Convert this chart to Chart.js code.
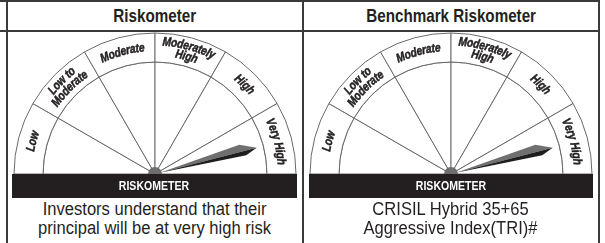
<!DOCTYPE html>
<html>
<head>
<meta charset="utf-8">
<script src="https://cdn.jsdelivr.net/npm/chart.js@4.4.1/dist/chart.umd.min.js"></script>
<style>
  body { margin: 0; width: 605px; height: 243px; overflow: hidden; position: relative; background: #fff;
         font-family: "Liberation Sans", Arial, sans-serif; color: #231f20; }
  .line { position: absolute; background: #3a3a3a; }
  .head { position: absolute; top: 2px; height: 28px; line-height: 28px; text-align: center; font-weight: bold; font-size: 19px; }
  .head span { display: inline-block; transform: scaleX(0.8); }
  .band { position: absolute; top: 174px; height: 24px; line-height: 25px; background: #231f20; color: #fff;
          text-align: center; font-weight: bold; font-size: 12px; }
  .band span { display: inline-block; transform: scaleX(0.88); }
  .cap { position: absolute; top: 200px; text-align: center; font-size: 18px; line-height: 19px; }
  .cap span { display: inline-block; transform: scaleX(0.92); white-space: nowrap; }
  canvas { position: absolute; }
</style>
</head>
<body>
<div class="line" style="left:0;top:0;width:600px;height:2px"></div>
<div class="line" style="left:0;top:30px;width:600px;height:2px"></div>
<div class="line" style="left:6px;top:0;width:2px;height:243px"></div>
<div class="line" style="left:302px;top:0;width:2px;height:243px"></div>
<div class="line" style="left:598px;top:0;width:2px;height:243px"></div>

<div class="head" style="left:8px;width:294px"><span id="head0"></span></div>
<div class="head" style="left:304px;width:294px"><span id="head1"></span></div>

<canvas id="gauge0" width="300" height="161" style="left:5px;top:23px"></canvas>
<canvas id="gauge1" width="300" height="161" style="left:301px;top:23px"></canvas>

<div class="band" style="left:12px;width:285px"><span>RISKOMETER</span></div>
<div class="band" style="left:309px;width:284px"><span>RISKOMETER</span></div>

<div class="cap" style="left:8px;width:294px"><span id="cap0"></span></div>
<div class="cap" style="left:304px;width:294px"><span id="cap1"></span></div>

<script>
// ## DATA ##
const riskLevels = [["Low"], ["Low to", "Moderate"], ["Moderate"], ["Moderately", "High"], ["High"], ["Very High"]];
const segmentSize = [1, 1, 1, 1, 1, 1];
const panelTitles = ["Riskometer", "Benchmark Riskometer"];
const panelLevels = ["Very High", "Very High"];
const fundCaption = ["Investors understand that their", "principal will be at very high risk"];
const benchmarkCaption = ["CRISIL Hybrid 35+65", "Aggressive Index(TRI)#"];

// ## TEXT ##
document.getElementById("head0").textContent = panelTitles[0];
document.getElementById("head1").textContent = panelTitles[1];
document.getElementById("cap0").innerHTML = fundCaption.join("<br>");
document.getElementById("cap1").innerHTML = benchmarkCaption.join("<br>");

// ## GAUGE ##
const labelFont = 'italic bold 12.5px "Liberation Sans", Arial, sans-serif';
const labelSquash = 0.82;

function arcText(ctx, text, cx, cy, r, mid) {
  const total = ctx.measureText(text).width * labelSquash;
  let a = mid - total / 2 / r;
  for (const ch of text) {
    const w = ctx.measureText(ch).width * labelSquash;
    const ca = a + w / 2 / r;
    ctx.save();
    ctx.translate(cx + r * Math.cos(ca), cy + r * Math.sin(ca));
    ctx.rotate(ca + Math.PI / 2);
    ctx.scale(labelSquash, 1);
    ctx.strokeText(ch, 0, 0);
    ctx.fillText(ch, 0, 0);
    ctx.restore();
    a += w / r;
  }
}

const gaugeDecor = {
  id: "gaugeDecor",
  afterDatasetsDraw(chart) {
    const ctx = chart.ctx;
    const ring = chart.getDatasetMeta(0).data;
    const cx = ring[0].x;
    const cy = ring[0].y;
    const rMid = (ring[0].innerRadius + ring[0].outerRadius) / 2;

    // labels along the outer ring
    ctx.save();
    ctx.font = labelFont;
    ctx.fillStyle = "#231f20";
    ctx.strokeStyle = "#231f20";
    ctx.lineWidth = 0.5;
    ctx.textAlign = "center";
    ctx.textBaseline = "middle";
    ring.forEach((arc, i) => {
      const mid = (arc.startAngle + arc.endAngle) / 2;
      const lines = riskLevels[i];
      if (lines.length === 1) {
        arcText(ctx, lines[0], cx, cy, rMid, mid);
      } else {
        arcText(ctx, lines[0], cx, cy, rMid + 5.5, mid);
        arcText(ctx, lines[1], cx, cy, rMid - 5, mid);
      }
    });
    ctx.restore();

    // needle
    const level = chart.options.plugins.gaugeDecor.level;
    const idx = riskLevels.findIndex((l) => l.join(" ") === level);
    const target = ring[idx];
    const a = (target.startAngle + target.endAngle) / 2;
    const ux = Math.cos(a), uy = Math.sin(a);
    const nx = Math.sin(a), ny = -Math.cos(a);
    const P = (along, perp) => [cx + along * ux + perp * nx, cy + along * uy + perp * ny];
    const s0 = P(5, 0), up = P(89, 6.5), dn = P(93, -5.5), tip = P(105, -1);
    ctx.save();
    ctx.fillStyle = "#707070";
    ctx.beginPath();
    ctx.moveTo(...s0); ctx.lineTo(...up); ctx.lineTo(...tip); ctx.closePath();
    ctx.fill();
    ctx.fillStyle = "#1e1e1e";
    ctx.beginPath();
    ctx.moveTo(...s0); ctx.lineTo(...tip); ctx.lineTo(...dn); ctx.closePath();
    ctx.fill();
    // hub
    ctx.fillStyle = "#6e6e6e";
    ctx.beginPath();
    ctx.arc(cx, cy, 7, Math.PI, 0);
    ctx.fill();
    ctx.restore();
  },
};

function createGauge(id, level) {
  const ctx = document.getElementById(id).getContext("2d");
  return new Chart(ctx, {
    type: "doughnut",
    data: {
      labels: riskLevels.map((l) => l.join(" ")),
      datasets: [
        {
          data: segmentSize,
          backgroundColor: "#ffffff",
          borderColor: "#6a6a6a",
          borderWidth: 1,
          weight: 29,
        },
        {
          data: segmentSize,
          backgroundColor: "#ffffff",
          borderColor: "#6a6a6a",
          borderWidth: 1,
          weight: 112,
        },
      ],
    },
    options: {
      responsive: false,
      animation: false,
      events: [],
      rotation: -90,
      circumference: 180,
      cutout: 0,
      radius: 141,
      layout: { padding: 0 },
      plugins: {
        legend: { display: false },
        tooltip: { enabled: false },
        gaugeDecor: { level: level },
      },
    },
    plugins: [gaugeDecor],
  });
}

createGauge("gauge0", panelLevels[0]);
createGauge("gauge1", panelLevels[1]);
</script>
</body>
</html>
